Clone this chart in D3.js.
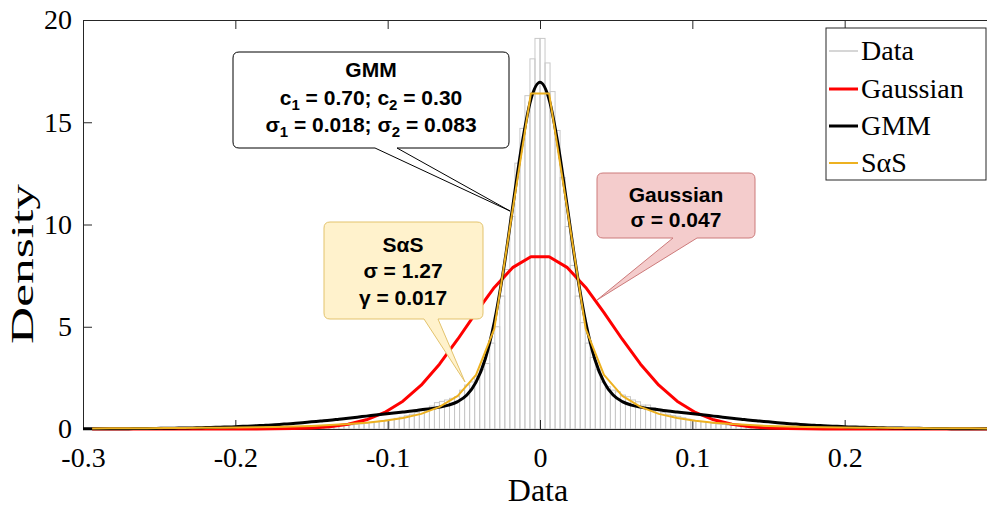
<!DOCTYPE html>
<html><head><meta charset="utf-8">
<script src="https://cdn.jsdelivr.net/npm/d3@7"></script>
<style>body{margin:0;background:#fff;} svg{display:block;}</style>
</head><body><svg id="chart" width="987" height="510"></svg>
<script>
// ---------- data ----------
const xTicks = [-0.3, -0.2, -0.1, 0, 0.1, 0.2, 0.3];
const xTickLabels = ["-0.3", "-0.2", "-0.1", "0", "0.1", "0.2"];
const yTicks = [0, 5, 10, 15, 20];
const yTickLabels = ["0", "5", "10", "15", "20"];

const histStart = -0.198;
const binWidth = 0.0033;
const histDensity = [
  0.01,0.01,0.015,0.015,0.02,0.02,0.025,0.03,0.035,0.04,
  0.045,0.05,0.06,0.07,0.08,0.09,0.10,0.11,0.12,0.14,
  0.16,0.18,0.20,0.22,0.25,0.28,0.31,0.35,0.39,0.43,
  0.47,0.52,0.58,0.65,0.72,0.80,0.90,1.00,1.12,1.29,
  1.35,1.42,1.50,1.58,1.90,2.15,2.30,2.56,2.90,3.20,
  4.20,5.00,6.50,7.80,10.4,13.0,14.7,16.3,18.1,19.1,
  19.1,17.9,16.5,14.6,12.3,9.9,8.0,6.5,5.2,4.2,
  3.5,2.9,2.3,2.07,1.9,1.82,1.66,1.58,1.42,1.33,
  1.17,1.17,1.05,0.92,0.80,0.72,0.66,0.62,0.55,0.48,
  0.42,0.38,0.36,0.32,0.27,0.24,0.22,0.19,0.17,0.15,
  0.13,0.12,0.10,0.09,0.08,0.07,0.06,0.05,0.05,0.04,
  0.04,0.035,0.03,0.025,0.02,0.02,0.015,0.015,0.01,0.01
];

const fitX = [
  -0.294,-0.282,-0.270,-0.258,-0.246,-0.234,-0.222,-0.210,-0.198,-0.186,
  -0.174,-0.162,-0.150,-0.138,-0.126,-0.114,-0.102,-0.090,-0.078,-0.066,
  -0.054,-0.042,-0.030,-0.018,-0.006,
  0.006,0.018,0.030,0.042,0.054,0.066,0.078,0.090,0.102,0.114,
  0.126,0.138,0.150,0.162,0.174,0.186,0.198,0.210,0.222,0.234,
  0.246,0.258,0.270,0.282,0.294
];
const gaussY = [
  0,0,0,0,0,0,0,0,0.001,0.004,
  0.009,0.022,0.05,0.11,0.23,0.45,0.81,1.36,2.14,3.17,
  4.39,5.69,6.92,7.89,8.42,
  8.42,7.89,6.92,5.69,4.39,3.17,2.14,1.36,0.81,0.45,
  0.23,0.11,0.05,0.022,0.009,0.004,0.001,0,0,0,
  0,0,0,0,0
];
const sasY = [
  0.030,0.033,0.037,0.041,0.045,0.051,0.057,0.065,0.074,0.085,
  0.10,0.12,0.15,0.19,0.24,0.31,0.40,0.54,0.74,1.08,
  1.62,2.65,4.9,10.7,16.4,
  16.4,10.7,4.9,2.65,1.62,1.08,0.74,0.54,0.40,0.31,
  0.24,0.19,0.15,0.12,0.10,0.085,0.074,0.065,0.057,0.051,
  0.045,0.041,0.037,0.033,0.030
];

const gmmX = [
  -0.300,-0.294,-0.288,-0.282,-0.276,-0.270,-0.264,-0.258,-0.252,-0.246,
  -0.240,-0.234,-0.228,-0.222,-0.216,-0.210,-0.204,-0.198,-0.192,-0.186,
  -0.180,-0.174,-0.168,-0.162,-0.156,-0.150,-0.144,-0.138,-0.132,-0.126,
  -0.120,-0.114,-0.108,-0.102,-0.096,-0.090,-0.084,-0.078,-0.072,-0.066,
  -0.060,-0.054,-0.048,-0.042,-0.036,-0.030,-0.024,-0.018,-0.012,-0.006,
  0,
  0.006,0.012,0.018,0.024,0.030,0.036,0.042,0.048,0.054,0.060,
  0.066,0.072,0.078,0.084,0.090,0.096,0.102,0.108,0.114,0.120,
  0.126,0.132,0.138,0.144,0.150,0.156,0.162,0.168,0.174,0.180,
  0.186,0.192,0.198,0.204,0.210,0.216,0.222,0.228,0.234,0.240,
  0.246,0.252,0.258,0.264,0.270,0.276,0.282,0.288,0.294,0.300
];
const gmmY = [
  0.007,0.008,0.01,0.012,0.014,0.017,0.02,0.024,0.029,0.034,
  0.04,0.047,0.055,0.065,0.075,0.09,0.10,0.12,0.14,0.16,
  0.18,0.21,0.24,0.27,0.31,0.35,0.39,0.43,0.48,0.53,
  0.58,0.63,0.68,0.73,0.78,0.83,0.88,0.94,0.99,1.07,
  1.17,1.34,1.66,2.29,3.41,5.22,7.76,10.82,13.85,16.11,
  16.95,
  16.11,13.85,10.82,7.76,5.22,3.41,2.29,1.66,1.34,1.17,
  1.07,0.99,0.94,0.88,0.83,0.78,0.73,0.68,0.63,0.58,
  0.53,0.48,0.43,0.39,0.35,0.31,0.27,0.24,0.21,0.18,
  0.16,0.14,0.12,0.10,0.09,0.075,0.065,0.055,0.047,0.04,
  0.034,0.029,0.024,0.02,0.017,0.014,0.012,0.01,0.008,0.007
];

const legendLabels = ["Data", "Gaussian", "GMM", "SαS"];
const legendColors = ["#c8c8c8", "#ff0000", "#000000", "#edb120"];
const xLabel = "Data";
const yLabel = "Density";

// ---------- layout ----------
const svg = d3.select("#chart");
const L = 83, R = 997, T = 20, B = 429;
const x = d3.scaleLinear().domain([-0.3, 0.3]).range([L, R]);
const y = d3.scaleLinear().domain([0, 20]).range([B, T]);
const axisColor = "#262626";
const serif = "'Liberation Serif','Times New Roman',serif";
const sans = "'Liberation Sans',Arial,Helvetica,sans-serif";

svg.append("defs").append("clipPath").attr("id", "plotClip")
  .append("rect").attr("x", L).attr("y", T - 2).attr("width", R - L).attr("height", B - T + 4);

// histogram
const bw = x(binWidth) - x(0);
svg.append("g").selectAll("rect").data(histDensity).join("rect")
  .attr("x", (d, i) => x(histStart + i * binWidth))
  .attr("y", d => y(d))
  .attr("width", bw)
  .attr("height", d => y(0) - y(d))
  .attr("fill", "none")
  .attr("stroke", "#c8c8c8")
  .attr("stroke-width", 1);

// axes
const gx = svg.append("g").attr("transform", `translate(0,${B})`)
  .call(d3.axisBottom(x).tickValues(xTicks).tickFormat((d, i) => xTickLabels[i] || "")
    .tickSizeInner(-9).tickSizeOuter(0).tickPadding(18));
const gxt = svg.append("g").attr("transform", `translate(0,${T})`)
  .call(d3.axisTop(x).tickValues(xTicks).tickFormat("").tickSizeInner(-9).tickSizeOuter(0));
const gy = svg.append("g").attr("transform", `translate(${L},0)`)
  .call(d3.axisLeft(y).tickValues(yTicks).tickFormat((d, i) => yTickLabels[i])
    .tickSizeInner(-9).tickSizeOuter(0).tickPadding(11));
[gx, gxt, gy].forEach(g => {
  g.selectAll("path.domain").attr("stroke", axisColor).attr("stroke-width", 1);
  g.selectAll(".tick line").attr("stroke", axisColor).attr("stroke-width", 1);
  g.selectAll(".tick text").attr("fill", "#000").style("font-family", serif).style("font-size", "28px");
});

// curves
const plot = svg.append("g").attr("clip-path", "url(#plotClip)");
const lin = d3.line().x(d => x(d[0])).y(d => y(d[1]));
const smooth = d3.line().x(d => x(d[0])).y(d => y(d[1])).curve(d3.curveMonotoneX);
plot.append("path").datum(fitX.map((v, i) => [v, gaussY[i]])).attr("d", lin)
  .attr("fill", "none").attr("stroke", legendColors[1]).attr("stroke-width", 3).attr("stroke-linejoin", "round");
plot.append("path").datum(gmmX.map((v, i) => [v, gmmY[i]])).attr("d", smooth)
  .attr("fill", "none").attr("stroke", legendColors[2]).attr("stroke-width", 3).attr("stroke-linejoin", "round");
plot.append("path").datum(fitX.map((v, i) => [v, sasY[i]])).attr("d", lin)
  .attr("fill", "none").attr("stroke", legendColors[3]).attr("stroke-width", 2).attr("stroke-linejoin", "round");

// axis labels
svg.append("text").attr("x", 538).attr("y", 501).attr("text-anchor", "middle")
  .style("font-family", serif).style("font-size", "32px").text(xLabel);
svg.append("text").attr("transform", "translate(33,264) rotate(-90)").attr("text-anchor", "middle")
  .attr("textLength", 160).attr("lengthAdjust", "spacingAndGlyphs")
  .style("font-family", serif).style("font-size", "31px").text(yLabel);

// callouts
function calloutPath(x0, y0, x1, y1, r, b1, b2, tx, ty) {
  return `M${x0 + r},${y0} H${x1 - r} Q${x1},${y0} ${x1},${y0 + r} V${y1 - r} Q${x1},${y1} ${x1 - r},${y1}` +
    ` H${b2} L${tx},${ty} L${b1},${y1} H${x0 + r} Q${x0},${y1} ${x0},${y1 - r} V${y0 + r} Q${x0},${y0} ${x0 + r},${y0} Z`;
}
const callouts = [
  { box: [233, 52, 509, 148], base: [375, 397], tip: [510, 211], fill: "#ffffff", stroke: "#000000", cx: 371,
    lines: [
      { y: 77, parts: [["GMM"]] },
      { y: 105, parts: [["c"], ["1", "sub"], [" = 0.70; c"], ["2", "sub"], [" = 0.30"]] },
      { y: 132, parts: [["σ"], ["1", "sub"], [" = 0.018; σ"], ["2", "sub"], [" = 0.083"]] }
    ] },
  { box: [324, 222, 483, 319], base: [424, 438], tip: [465, 382], fill: "#fff2cc", stroke: "#e3c36c", cx: 403,
    lines: [
      { y: 252, parts: [["SαS"]] },
      { y: 278, parts: [["σ = 1.27"]] },
      { y: 305, parts: [["γ = 0.017"]] }
    ] },
  { box: [597, 173, 755, 238], base: [673, 697], tip: [597, 300], fill: "#f4cccc", stroke: "#cc7a7a", cx: 676,
    lines: [
      { y: 202, parts: [["Gaussian"]] },
      { y: 227, parts: [["σ = 0.047"]] }
    ] }
];
callouts.forEach(c => {
  const g = svg.append("g");
  g.append("path").attr("d", calloutPath(c.box[0], c.box[1], c.box[2], c.box[3], 6, c.base[0], c.base[1], c.tip[0], c.tip[1]))
    .attr("fill", c.fill).attr("stroke", c.stroke).attr("stroke-width", 1);
  c.lines.forEach(ln => {
    const t = g.append("text").attr("x", c.cx).attr("y", ln.y).attr("text-anchor", "middle")
      .style("font-family", sans).style("font-weight", "bold").style("font-size", "21px").attr("fill", "#000");
    let shifted = false;
    ln.parts.forEach(p => {
      const ts = t.append("tspan").text(p[0]);
      if (p[1] === "sub") { ts.attr("dy", 5).style("font-size", "15px"); shifted = true; }
      else if (shifted) { ts.attr("dy", -5); shifted = false; }
    });
  });
});

// legend
const lg = svg.append("g");
lg.append("rect").attr("x", 826).attr("y", 28).attr("width", 160).attr("height", 152)
  .attr("fill", "#fff").attr("stroke", axisColor).attr("stroke-width", 1);
const legendY = [51, 89, 126, 163];
legendLabels.forEach((lab, i) => {
  lg.append("line").attr("x1", 829).attr("x2", 858).attr("y1", legendY[i]).attr("y2", legendY[i])
    .attr("stroke", legendColors[i]).attr("stroke-width", i === 0 ? 1.5 : (i === 3 ? 2 : 3));
  lg.append("text").attr("x", 861).attr("y", legendY[i] + 9)
    .style("font-family", serif).style("font-size", "28px").attr("fill", "#000").text(lab);
});
</script>
</body></html>
